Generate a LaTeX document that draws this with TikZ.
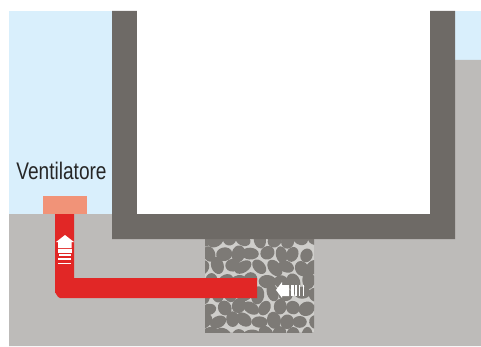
\documentclass[tikz,border=0pt]{standalone}
\usepackage{fontspec}
\setmainfont{Liberation Sans}
\definecolor{skyblue}{HTML}{D9EFFC}
\definecolor{soil}{HTML}{BDBBB9}
\definecolor{wall}{HTML}{6E6A66}
\definecolor{gravel}{HTML}{CFCECB}
\definecolor{stone}{HTML}{7D7A76}
\definecolor{pipe}{HTML}{E12726}
\definecolor{fan}{HTML}{F19378}
\begin{document}
\begin{tikzpicture}[x=0.75pt,y=-0.75pt]
\useasboundingbox (0,0) rectangle (481,346);
\fill[skyblue] (9,11) rectangle (481,214);
\fill[soil] (9,214)--(112,214)--(112,60)--(481,60)--(481,346)--(9,346)--cycle;
% gravel bed
\fill[gravel] (205,239) rectangle (314,332);
\begin{scope}
\clip (205,239) rectangle (314,332);
\pgfmathsetseed{11}
\foreach \i in {0,...,8} \foreach \j in {0,...,7} {
  \pgfmathsetmacro{\sx}{203+\i*14+mod(\j,2)*7+rand*2}
  \pgfmathsetmacro{\sy}{240+\j*13.5+rand*2}
  \pgfmathsetmacro{\sa}{7+rnd*2.5}
  \pgfmathsetmacro{\sb}{5.5+rnd*1.5}
  \pgfmathsetmacro{\st}{rnd*180}
  \fill[stone,rotate around={\st:(\sx,\sy)}] (\sx,\sy) ellipse [x radius=\sa,y radius=\sb];
}
\end{scope}
% house
\fill[wall] (112,11)--(137,11)--(137,214)--(430,214)--(430,11)--(455,11)--(455,239)--(112,239)--cycle;
\fill[white] (137,0) rectangle (430,214);
% fan and pipe
\fill[fan] (43,196) rectangle (87,214);
\fill[pipe] (55,214)--(74,214)--(74,278)--(257,278)--(257,298)--(60,298)
  to[out=180,in=90] (55,293)--cycle;
% arrow up
\fill[white] (65,235)--(74,242)--(71.5,242)--(71.5,248)--(58,248)--(58,242)--(56,242)--cycle;
\fill[white] (57.5,249) rectangle (71.5,253);
\fill[white] (59,254.3) rectangle (70.5,256.3);
\fill[white] (58,258) rectangle (71,260);
\fill[white] (58,263) rectangle (71,263.8);
% arrow left
\fill[white] (276,290)--(282,282)--(282,285)--(289,285)--(289,296)--(282,296)--(282,298)--cycle;
\fill[white] (290.5,285) rectangle (293.5,296);
\fill[white] (295,285) rectangle (297,296);
\fill[white] (298.5,285) rectangle (300,296);
\fill[white] (303,285) rectangle (304,296);
\node[xscale=0.795,text=black!85,font=\fontsize{18}{20}\selectfont,inner sep=0pt] (ventilatore) at (61.5,171) {Ventilatore};
\end{tikzpicture}
\end{document}
